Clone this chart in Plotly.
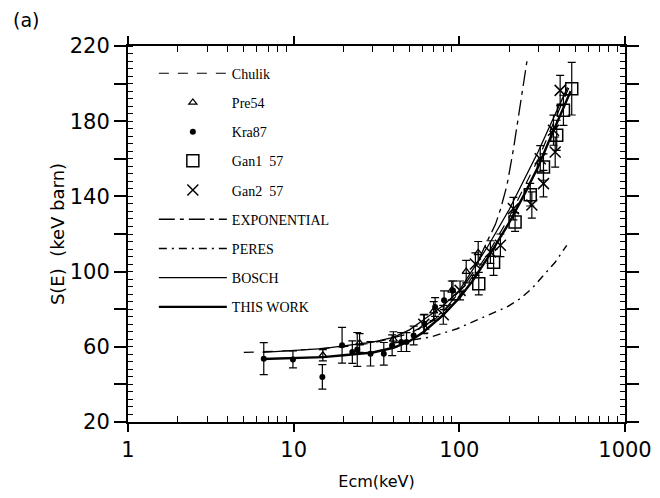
import plotly.graph_objects as go

# ---- data ----
pre54_E = [15, 25, 40, 70, 90, 110, 130]
pre54_S = [55.5, 62, 64, 79, 90, 100, 110]
pre54_err = [3, 5, 4, 5, 5, 6, 6]

kra87_E = [6.6, 9.9, 14.9, 19.6, 22.6, 24.2, 29.1, 35.0, 39.3, 44.6, 48.0, 53.0, 61.5, 71.4, 80.9, 91.5]
kra87_S = [53.7, 53.3, 44.0, 60.8, 57.2, 58.6, 56.3, 56.3, 60.8, 62.5, 62.5, 66.0, 72.3, 81.2, 84.8, 90.0]
kra87_err = [8.5, 4.5, 6.5, 9.5, 6, 9, 6.5, 6, 5.5, 5, 5, 5, 5, 5, 5, 5]

gan1_E = [131, 161, 217, 268, 322, 387, 425, 477]
gan1_S = [93.6, 105, 126.4, 140.9, 155.6, 172.5, 185.8, 197.3]
gan1_err = [6, 7, 5, 6, 7, 8, 8, 14]

gan2_E = [61, 80, 101, 125, 154, 177, 212, 274, 308, 322, 370, 379, 406]
gan2_S = [72, 77, 90, 104, 110.4, 114, 133.5, 135.4, 160, 146.8, 175.2, 163.6, 196.4]
gan2_err = [5, 5, 5, 6, 6, 6, 6, 7, 7, 7, 8, 8, 8]

chulik_E = [5.0, 7, 10, 20, 30, 50, 70, 100, 150, 200, 300, 400, 470]
chulik_S = [57, 57.5, 58, 60, 62, 67, 74, 87, 110, 129, 160, 186, 200]

expo_E = [60, 80, 100, 120, 147, 165, 177, 194, 212, 233, 244, 256]
expo_S = [70, 79, 89, 99, 116, 125, 133, 146, 165, 188, 199, 212]

peres_E = [40, 50, 67, 97, 134, 194, 233, 274, 322, 379, 445]
peres_S = [62, 63.5, 65.2, 69.6, 75, 81.2, 85.6, 91, 98, 105, 114]

bosch_E = [6.5, 10, 15, 20, 30, 40, 50, 60, 70, 80, 100, 150, 200, 250, 300, 350, 400, 450]
bosch_S = [57, 58, 59, 60.5, 62.5, 65, 69, 74, 78.5, 82, 90, 114, 133, 150, 164, 177, 188, 198]

this_E = [6.5, 10, 15, 20, 30, 40, 50, 60, 70, 80, 100, 120, 150, 200, 250, 300, 350, 400, 470]
this_S = [53.5, 54, 54.5, 55.5, 57, 59.5, 63, 67.5, 72.5, 77, 86, 95, 108, 126, 142, 156, 170, 182, 196]

y_ticks = [20, 40, 60, 80, 100, 120, 140, 160, 180, 200, 220]
y_labels = ["20", "", "60", "", "100", "", "140", "", "180", "", "220"]
x_ticks = [1, 10, 100, 1000]
x_labels = ["1", "10", "100", "1000"]
x_minor = [2, 3, 4, 5, 6, 7, 8, 9, 20, 30, 40, 50, 60, 70, 80, 90,
           200, 300, 400, 500, 600, 700, 800, 900]

K = "black"
fig = go.Figure()

def eb(err):
    return dict(type="data", array=err, visible=True, color=K, thickness=1.2, width=4)

fig.add_trace(go.Scatter(x=chulik_E, y=chulik_S, mode="lines", name="Chulik",
                         line=dict(color=K, width=1.2, dash="10px,9px"), legendgroup="a"))
fig.add_trace(go.Scatter(x=pre54_E, y=pre54_S, mode="markers", name="Pre54",
                         marker=dict(symbol="triangle-up-open", size=7, color=K, line=dict(width=1.3)),
                         error_y=eb(pre54_err), legendgroup="b"))
fig.add_trace(go.Scatter(x=kra87_E, y=kra87_S, mode="markers", name="Kra87",
                         marker=dict(symbol="circle", size=6, color=K),
                         error_y=eb(kra87_err), legendgroup="c"))
fig.add_trace(go.Scatter(x=gan1_E, y=gan1_S, mode="markers", name="Gan1  57",
                         marker=dict(symbol="square-open", size=12, color=K, line=dict(width=1.5)),
                         error_y=eb(gan1_err), legendgroup="d"))
fig.add_trace(go.Scatter(x=gan2_E, y=gan2_S, mode="markers", name="Gan2  57",
                         marker=dict(symbol="x-thin-open", size=11, color=K, line=dict(width=1.5, color=K)),
                         error_y=eb(gan2_err), legendgroup="e"))
fig.add_trace(go.Scatter(x=expo_E, y=expo_S, mode="lines", name="EXPONENTIAL",
                         line=dict(color=K, width=1.3, dash="16px,5px,4px,5px"), legendgroup="f"))
fig.add_trace(go.Scatter(x=peres_E, y=peres_S, mode="lines", name="PERES",
                         line=dict(color=K, width=1.4, dash="8px,5px,2px,5px"), legendgroup="g"))
fig.add_trace(go.Scatter(x=bosch_E, y=bosch_S, mode="lines", name="BOSCH",
                         line=dict(color=K, width=1.3), legendgroup="h"))
fig.add_trace(go.Scatter(x=this_E, y=this_S, mode="lines", name="THIS WORK",
                         line=dict(color=K, width=2.4), legendgroup="i"))

sans = "DejaVu Sans"
fig.update_layout(
    width=660, height=498,
    margin=dict(l=120, r=43, t=38, b=84),
    paper_bgcolor="white", plot_bgcolor="white",
    showlegend=True,
    legend=dict(x=0.052, y=0.969, xanchor="left", yanchor="top",
                bgcolor="rgba(0,0,0,0)", borderwidth=0,
                font=dict(family="Liberation Serif", size=14, color=K),
                tracegroupgap=8, itemwidth=68),
    annotations=[dict(text="(a)", xref="paper", yref="paper", x=-0.235, y=1.07,
                      xanchor="left", yanchor="middle", showarrow=False,
                      font=dict(family=sans, size=19, color=K))],
)
fig.update_xaxes(type="log", range=[0, 3], tickvals=x_ticks, ticktext=x_labels,
                 showline=True, linewidth=2, linecolor=K, mirror="ticks",
                 ticks="outside", ticklen=8, tickwidth=1.5, tickcolor=K,
                 minor=dict(ticks="inside", ticklen=6, tickwidth=1, tickcolor=K,
                            tickvals=x_minor, showgrid=False),
                 showgrid=False, zeroline=False, automargin=False,
                 tickfont=dict(family=sans, size=21, color=K),
                 title=dict(text="Ecm(keV)", font=dict(family=sans, size=16, color=K), standoff=15))
fig.update_yaxes(range=[20, 220], tickvals=y_ticks, ticktext=y_labels,
                 showline=True, linewidth=2, linecolor=K, mirror="ticks",
                 ticks="outside", ticklen=12, tickwidth=1.5, tickcolor=K,
                 minor=dict(ticks="inside", ticklen=5, tickwidth=1, tickcolor=K, dtick=4, tick0=0, showgrid=False),
                 showgrid=False, zeroline=False, automargin=False,
                 tickfont=dict(family=sans, size=21, color=K),
                 title=dict(text="S(E)  (keV barn)", font=dict(family=sans, size=18, color=K), standoff=0))

fig.write_html("out.html")
